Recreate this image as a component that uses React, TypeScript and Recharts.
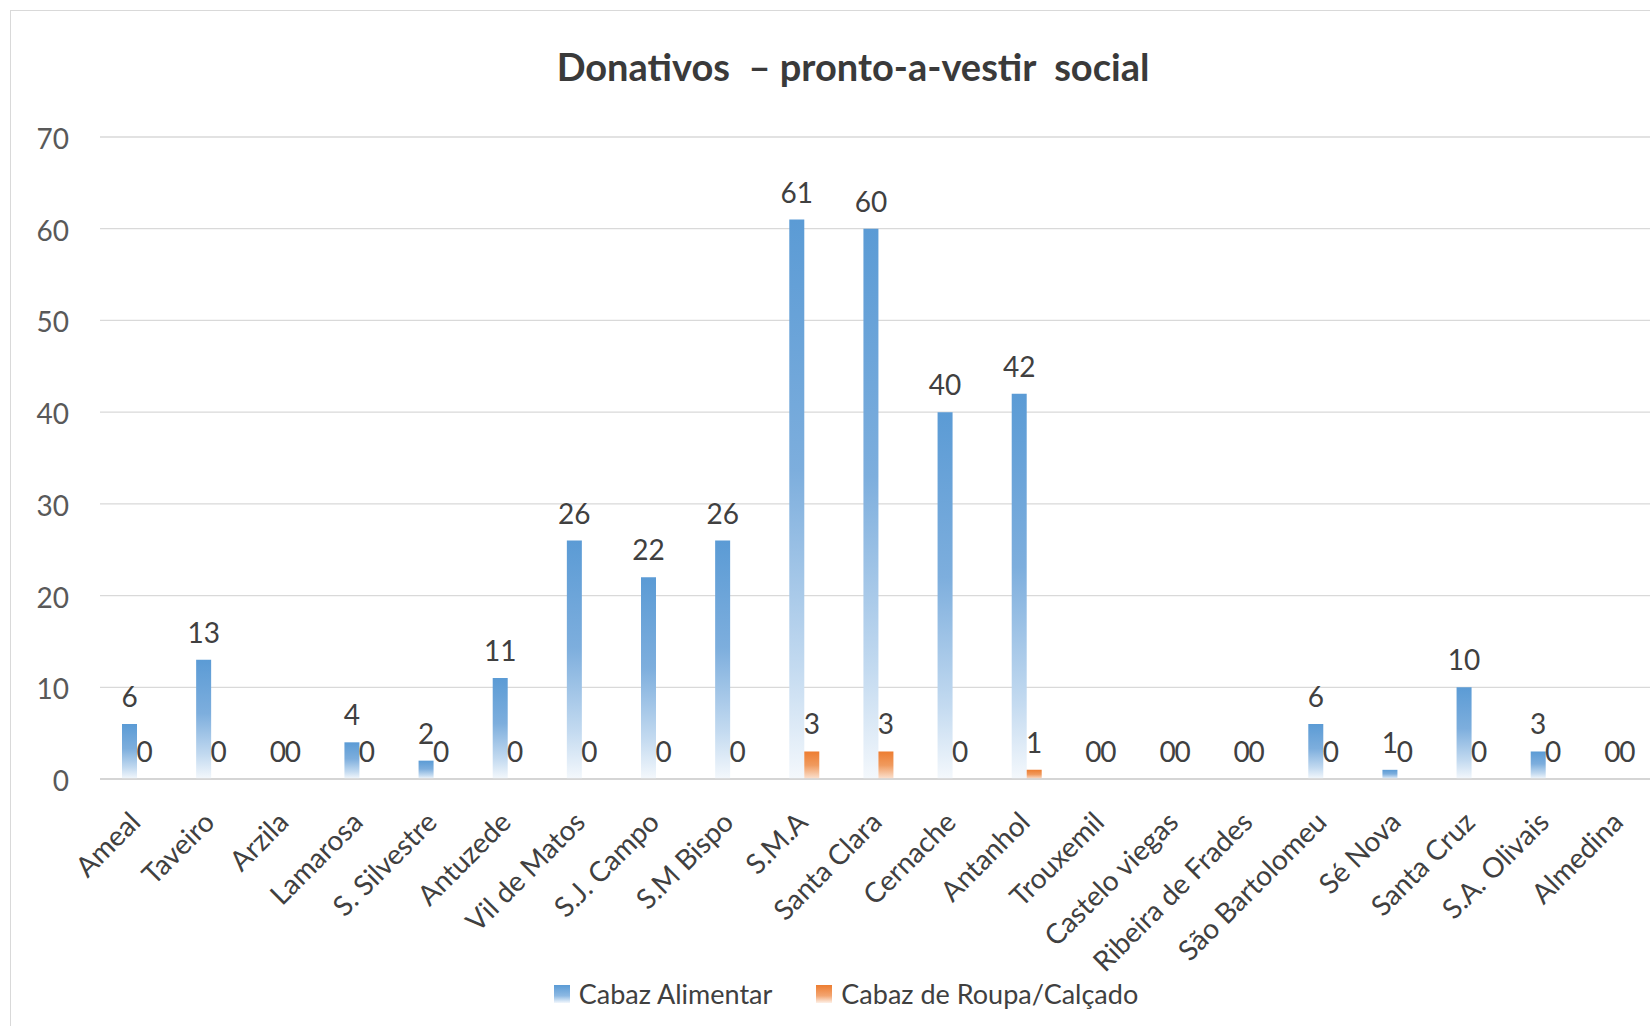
import React from 'react';
import { BarChart, Bar, XAxis, YAxis, CartesianGrid, LabelList, Legend } from 'recharts';

const categories = [
  'Ameal', 'Taveiro', 'Arzila', 'Lamarosa', 'S. Silvestre', 'Antuzede', 'Vil de Matos',
  'S.J. Campo', 'S.M Bispo', 'S.M.A', 'Santa Clara', 'Cernache', 'Antanhol', 'Trouxemil',
  'Castelo viegas', 'Ribeira de Frades', 'São Bartolomeu', 'Sé Nova', 'Santa Cruz',
  'S.A. Olivais', 'Almedina',
];
const cabazAlimentar = [6, 13, 0, 4, 2, 11, 26, 22, 26, 61, 60, 40, 42, 0, 0, 0, 6, 1, 10, 3, 0];
const cabazRoupa = [0, 0, 0, 0, 0, 0, 0, 0, 0, 3, 3, 0, 1, 0, 0, 0, 0, 0, 0, 0, 0];
const yTicks = [0, 10, 20, 30, 40, 50, 60, 70];
const seriesNames = ['Cabaz Alimentar', 'Cabaz de Roupa/Calçado'];

const data = categories.map((name, i) => ({
  name,
  alimentar: cabazAlimentar[i],
  roupa: cabazRoupa[i],
}));

const FONT = 'Lato, "Open Sans", sans-serif';
const TEXT = '#404040';

const XTick = (props: any) => {
  const { x, y, payload } = props;
  const ax = x + 5;
  const ay = y + 45;
  return (
    <text
      x={ax}
      y={ay}
      textAnchor="end"
      transform={`rotate(-45, ${ax}, ${ay})`}
      fontFamily={FONT}
      fontSize={28}
      fill={TEXT}
    >
      {payload.value}
    </text>
  );
};

const ValueLabel = (props: any) => {
  const { x, y, width, value } = props;
  if (value === null || value === undefined) return null;
  return (
    <text
      x={x + width / 2}
      y={y - 17}
      textAnchor="middle"
      fontFamily={FONT}
      fontSize={28}
      fill={TEXT}
    >
      {value}
    </text>
  );
};

const LegendContent = () => {
  const items = [
    { name: seriesNames[0], grad: 'linear-gradient(#5B9BD5, #8DB9E3 60%, #F2F7FC)' },
    { name: seriesNames[1], grad: 'linear-gradient(#ED7D31, #F3A571 60%, #FDF0E7)' },
  ];
  return (
    <div style={{ display: 'flex', justifyContent: 'center', alignItems: 'center', fontFamily: FONT }}>
      {items.map((it, i) => (
        <div key={it.name} style={{ display: 'flex', alignItems: 'center', marginLeft: i === 0 ? 0 : 44 }}>
          <div style={{ width: 16, height: 18, background: it.grad, marginRight: 9 }} />
          <span style={{ fontSize: 27, color: TEXT, lineHeight: '30px' }}>{it.name}</span>
        </div>
      ))}
    </div>
  );
};

const zeroMin = (value: any) => (value === 0 ? 0.01 : 0);

export default function App() {
  return (
    <div style={{ position: 'fixed', left: 0, top: 0, width: 1650, height: 1026, overflow: 'hidden', background: '#fff' }}>
      <div
        style={{
          position: 'absolute',
          left: 10,
          top: 10,
          width: 1700,
          height: 1100,
          border: '1px solid #D9D9D9',
          background: '#fff',
        }}
      >
        <div
          style={{
            position: 'absolute',
            left: 0,
            top: 35,
            width: 1684,
            textAlign: 'center',
            whiteSpace: 'pre',
            fontFamily: FONT,
            fontWeight: 700,
            fontSize: 38,
            lineHeight: '40px',
            color: '#3A3A3A',
          }}
        >
          {'Donativos  – pronto-a-vestir  social'}
        </div>
        <BarChart
          width={1680}
          height={1040}
          data={data}
          margin={{ top: 126, right: 34, bottom: 122, left: 29 }}
          barSize={15}
          barGap={0}
        >
          <defs>
            <linearGradient id="gradBlue" x1="0" y1="0" x2="0" y2="1">
              <stop offset="0%" stopColor="#5B9BD5" />
              <stop offset="45%" stopColor="#7DAEDD" />
              <stop offset="80%" stopColor="#C3DAF0" />
              <stop offset="100%" stopColor="#F4F8FC" />
            </linearGradient>
            <linearGradient id="gradOrange" x1="0" y1="0" x2="0" y2="1">
              <stop offset="0%" stopColor="#ED7D31" />
              <stop offset="50%" stopColor="#F09A5E" />
              <stop offset="100%" stopColor="#FBE3D3" />
            </linearGradient>
          </defs>
          <CartesianGrid vertical={false} stroke="#D9D9D9" strokeWidth={1.3} />
          <XAxis
            dataKey="name"
            interval={0}
            tickLine={false}
            tickSize={0}
            tickMargin={0}
            height={150}
            axisLine={{ stroke: '#D0D0D0', strokeWidth: 1.6 }}
            tick={<XTick />}
          />
          <YAxis
            domain={[0, 70]}
            ticks={yTicks}
            width={60}
            axisLine={false}
            tickLine={false}
            tickSize={0}
            tickMargin={31}
            tick={{ fontFamily: FONT, fontSize: 28, fill: '#595959', dy: 2 }}
          />
          <Legend
            verticalAlign="middle"
            align="center"
            layout="horizontal"
            wrapperStyle={{ top: 968, left: 0, width: 1670, height: 32 }}
            content={<LegendContent />}
          />
          <Bar dataKey="alimentar" name={seriesNames[0]} fill="url(#gradBlue)" minPointSize={zeroMin} isAnimationActive={false}>
            <LabelList dataKey="alimentar" content={<ValueLabel />} />
          </Bar>
          <Bar dataKey="roupa" name={seriesNames[1]} fill="url(#gradOrange)" minPointSize={zeroMin} isAnimationActive={false}>
            <LabelList dataKey="roupa" content={<ValueLabel />} />
          </Bar>
        </BarChart>
      </div>
    </div>
  );
}
